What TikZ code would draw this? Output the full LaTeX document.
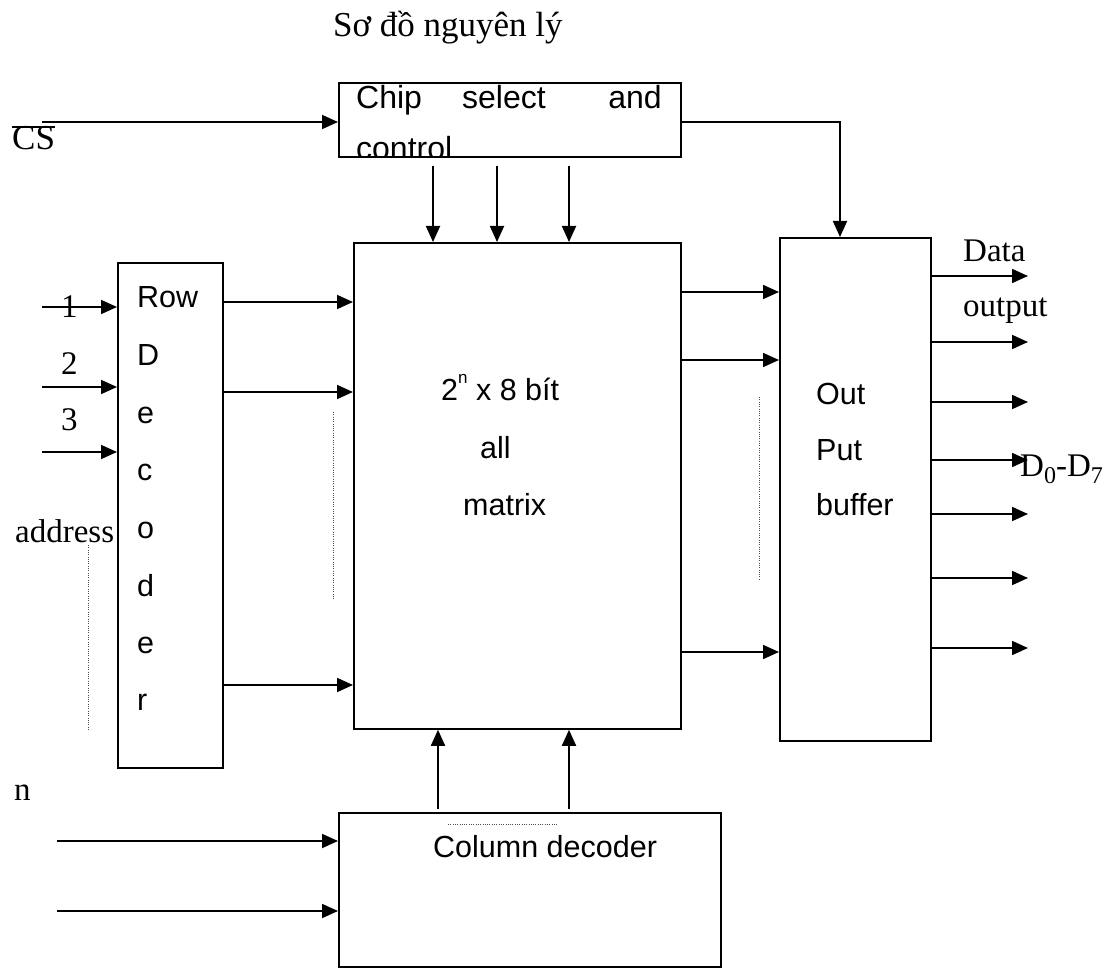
\documentclass[tikz,border=0pt]{standalone}
\usepackage{fontspec}
\setmainfont{Liberation Serif}
\newfontfamily\arialf{Liberation Sans}
\usetikzlibrary{arrows.meta}
\begin{document}
\begin{tikzpicture}[x=1pt,y=-1pt,
  blk/.style={draw, line width=1.8pt, inner sep=0pt, anchor=north west},
  arr/.style={line width=1.8pt, -{Triangle[length=16pt,width=14pt]}},
  ln/.style={line width=1.5pt},
  dots/.style={line width=0.9pt, dash pattern=on 1pt off 1.3pt, gray!60!black},
  sans/.style={font=\arialf\fontsize{30.5}{34}\selectfont, inner sep=0pt, anchor=base west},
  serif/.style={font=\fontsize{33}{38}\selectfont, inner sep=0pt, anchor=base west}]
\useasboundingbox (0,0) rectangle (1117,968);

% blocks
\node[blk, minimum width=342pt, minimum height=74pt] (chip) at (338,82) {};
\node[blk, minimum width=327pt, minimum height=486pt] (mat) at (353,242) {};
\node[blk, minimum width=105pt, minimum height=505pt] (row) at (117,262) {};
\node[blk, minimum width=151pt, minimum height=503pt] (buf) at (779,237) {};
\node[blk, minimum width=382pt, minimum height=154pt] (col) at (338,812) {};

% title
\node[serif, font=\fontsize{35}{40}\selectfont] (title) at (333,37) {Sơ đồ nguyên lý};

% chip select text
\begin{scope}
\clip (chip.north west) rectangle (chip.south east);
\node[sans, font=\arialf\fontsize{32}{38}\selectfont] (t1) at (356,109) {Chip};
\node[sans, anchor=base, font=\arialf\fontsize{32}{38}\selectfont] (t2) at (504,109) {select};
\node[sans, anchor=base east, font=\arialf\fontsize{32}{38}\selectfont] (t3) at (662,109) {and};
\node[sans, font=\arialf\fontsize{32}{38}\selectfont] (t4) at (356,160) {control};
\end{scope}

% CS
\node[serif, font=\fontsize{35}{40}\selectfont] (cs) at (12,150) {CS};
\draw[ln] (cs.base west |- 0,127) -- (cs.base east |- 0,127);
\coordinate (csin) at (42,122);
\draw[arr] (csin) -- (csin -| chip.west);

% chip -> matrix arrows
\foreach \x/\n in {433/a,497/b,569/c}{
  \coordinate (c\n) at (\x,166);
  \draw[arr] (c\n) -- (c\n |- mat.north);
}
% chip -> buffer
\coordinate (cb) at (840,122);
\draw[arr] (cb -| chip.east) -- (cb) -- (cb |- buf.north);

% row decoder text
\node[sans] (r0) at (137,308) {Row};
\node[sans] (r1) at (137,366) {D};
\node[sans] (r2) at (137,423) {e};
\node[sans] (r3) at (137,480) {c};
\node[sans] (r4) at (137,538) {o};
\node[sans] (r5) at (137,596) {d};
\node[sans] (r6) at (137,653) {e};
\node[sans] (r7) at (137,710) {r};

% row decoder inputs
\foreach \y/\n in {307/a,387/b,452/c}{
  \coordinate (i\n) at (42,\y);
  \draw[arr] (i\n) -- (i\n -| row.west);
}
\node[serif] (l1) at (61,318) {1};
\node[serif] (l2) at (61,375) {2};
\node[serif] (l3) at (61,430) {3};
\node[serif] (addr) at (15,542) {address};
\coordinate (ad1) at (88,545);
\coordinate (ad2) at (88,730);
\draw[dots] (ad1) -- (ad2);

% row decoder -> matrix
\foreach \y/\n in {302/a,392/b,685/c}{
  \coordinate (ro\n) at (0,\y);
  \draw[arr] (ro\n -| row.east) -- (ro\n -| mat.west);
}
\coordinate (rd1) at (333,412);
\coordinate (rd2) at (333,600);
\draw[dots] (rd1) -- (rd2);

% matrix text
\node[sans] (m1) at (441,400) {2\raisebox{0.55em}{\fontsize{17}{20}\selectfont n} x 8 bít};
\node[sans] (m2) at (480,458) {all};
\node[sans] (m3) at (463,515) {matrix};

% matrix -> buffer
\foreach \y/\n in {292/a,360/b,652/c}{
  \coordinate (mo\n) at (0,\y);
  \draw[arr] (mo\n -| mat.east) -- (mo\n -| buf.west);
}
\coordinate (md1) at (759,397);
\coordinate (md2) at (759,580);
\draw[dots] (md1) -- (md2);

% buffer text
\node[sans] (b1) at (816,405) {Out};
\node[sans] (b2) at (816,460) {Put};
\node[sans] (b3) at (816,515) {buffer};

% outputs
\foreach \y/\n in {276/a,342/b,402/c,460/d,514/e,578/f,648/g}{
  \coordinate (q\n) at (1028,\y);
  \draw[arr] (q\n -| buf.east) -- (q\n);
}
\node[serif] (data) at (963,262) {Data};
\node[serif] (outp) at (963,317) {output};
\node[serif] (dd) at (1020,476) {D\raisebox{-0.22em}{\fontsize{24}{28}\selectfont 0}-D\raisebox{-0.22em}{\fontsize{24}{28}\selectfont 7}};

% column decoder
\foreach \x/\n in {438/a,569/b}{
  \coordinate (u\n) at (\x,809);
  \draw[arr] (u\n) -- (u\n |- mat.south);
}
\coordinate (cd1) at (448,824);
\coordinate (cd2) at (558,824);
\draw[dots] (cd1) -- (cd2);
\node[sans] (ct) at (433,857) {Column decoder};
\node[serif] (nl) at (14,800) {n};
\foreach \y/\n in {841/a,911/b}{
  \coordinate (n\n) at (57,\y);
  \draw[arr] (n\n) -- (n\n -| col.west);
}
\end{tikzpicture}
\end{document}
